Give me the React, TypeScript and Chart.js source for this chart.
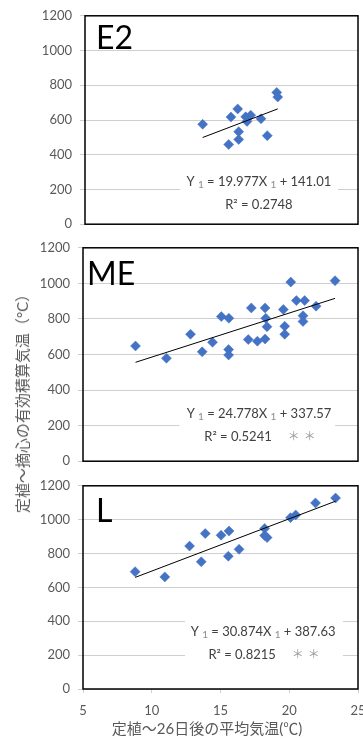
import React, { useEffect, useRef } from "react";
import { Chart, registerables } from "chart.js";

Chart.register(...registerables);

// ---- E2 ----
const e2Temp = [17.93, 20.79, 21.04, 21.78, 21.89, 21.89, 22.66, 22.8, 23.21, 24.34, 25.03, 26.07, 26.18];
const e2Heat = [575, 459, 617, 664, 533, 488, 618, 592, 628, 607, 510, 759, 732];
const e2Fit = { slope: 19.977, intercept: 141.01, r2: 0.2748, sig: "" };

// ---- ME ----
const meTemp = [
  8.82, 11.07, 12.82, 13.67, 14.42, 15.06, 15.61, 15.59, 15.59, 17.02, 17.24, 17.68, 18.24,
  18.24, 18.29, 18.38, 19.57, 19.67, 19.67, 20.11, 20.52, 21.12, 21.0, 21.0, 21.95, 23.33,
];
const meHeat = [
  648, 579, 714, 615, 669, 813, 804, 628, 597, 684, 862, 675, 687,
  862, 804, 756, 853, 759, 714, 1007, 903, 903, 818, 786, 872, 1015,
];
const meFit = { slope: 24.778, intercept: 337.57, r2: 0.5241, sig: "＊＊" };

// ---- L ----
const lTemp = [8.79, 10.95, 12.75, 13.6, 13.89, 15.04, 15.62, 15.57, 16.35, 18.21, 18.21, 18.39, 20.09, 20.47, 21.91, 23.37];
const lHeat = [693, 662, 844, 751, 918, 908, 933, 784, 825, 948, 906, 894, 1012, 1028, 1099, 1128];
const lFit = { slope: 30.874, intercept: 387.63, r2: 0.8215, sig: "＊＊" };

// shared axis ticks
const yTickMin = 0;
const yTickMax = 1200;
const yTickStep = 200;
const xTickStep = 5;

const X_TITLE = "定植～26日後の平均気温(℃)";
const Y_TITLE = "定植～摘心の有効積算気温（°C）";

const MARKER = "#4472C4";
const AXIS_TEXT = "#595959";
const GRID = "#cfcfcf";
const LATIN = "Lato, 'Noto Sans', sans-serif";
const CJK = "Lato, 'Noto Sans CJK JP', sans-serif";

type Fit = { slope: number; intercept: number; r2: number; sig: string };

type PanelSpec = {
  name: string;
  xs: number[];
  ys: number[];
  fit: Fit;
  xMin: number;
  xMax: number;
  showX: boolean;
  top: number;
  height: number;
  padTop: number;
  padBottom: number;
  yWidth: number;
  xHeight: number;
  labelDx: number;
  labelDy: number;
  eqCx: number; // fraction of plot width
  eqY1: number; // fraction of plot height
  eqY2: number;
  boxL: number;
  boxR: number;
};

const panels: PanelSpec[] = [
  {
    name: "E2", xs: e2Temp, ys: e2Heat, fit: e2Fit, xMin: 5, xMax: 35, showX: false,
    top: 0, height: 240, padTop: 12, padBottom: 11, yWidth: 85, xHeight: 0,
    labelDx: 11, labelDy: 33, eqCx: 0.637, eqY1: 0.795, eqY2: 0.908, boxL: 0.348, boxR: 0.927,
  },
  {
    name: "ME", xs: meTemp, ys: meHeat, fit: meFit, xMin: 5, xMax: 25, showX: false,
    top: 232, height: 245, padTop: 13, padBottom: 10, yWidth: 83, xHeight: 0,
    labelDx: 4, labelDy: 37, eqCx: 0.64, eqY1: 0.777, eqY2: 0.886, boxL: 0.35, boxR: 0.917,
  },
  {
    name: "L", xs: lTemp, ys: lHeat, fit: lFit, xMin: 5, xMax: 25, showX: true,
    top: 470, height: 270, padTop: 12.7, padBottom: 0, yWidth: 83, xHeight: 51,
    labelDx: 13, labelDy: 36, eqCx: 0.655, eqY1: 0.718, eqY2: 0.831, boxL: 0.371, boxR: 0.945,
  },
];

const EQ_FONT = `13px ${LATIN}`;
const SUB_FONT = `10px ${LATIN}`;
const SIG_FONT = `12px 'Noto Sans CJK JP', sans-serif`;

function drawEquation(ctx: CanvasRenderingContext2D, fit: Fit, cx: number, y1: number, y2: number) {
  const segs = [
    { t: "Y ", sub: false },
    { t: "1", sub: true },
    { t: " = " + fit.slope.toFixed(3) + "X ", sub: false },
    { t: "1", sub: true },
    { t: " + " + fit.intercept.toFixed(2), sub: false },
  ];
  ctx.textBaseline = "middle";
  ctx.textAlign = "left";
  let total = 0;
  const widths = segs.map((s) => {
    ctx.font = s.sub ? SUB_FONT : EQ_FONT;
    const w = ctx.measureText(s.t).width;
    total += w;
    return w;
  });
  let x = cx - total / 2;
  segs.forEach((s, i) => {
    ctx.font = s.sub ? SUB_FONT : EQ_FONT;
    ctx.fillStyle = s.sub ? "#8c8c8c" : "#404040";
    ctx.fillText(s.t, x, s.sub ? y1 + 3 : y1);
    x += widths[i];
  });

  // second line: R² and, when significant, the ＊＊ mark after it
  const r2Text = "R² = " + fit.r2.toFixed(4);
  ctx.font = EQ_FONT;
  const w1 = ctx.measureText(r2Text).width;
  const r2Center = fit.sig ? cx - 21 : cx;
  const r2Left = r2Center - w1 / 2;
  ctx.fillStyle = "#404040";
  ctx.fillText(r2Text, r2Left, y2);
  if (fit.sig) {
    ctx.font = SIG_FONT;
    ctx.fillStyle = "#9a9a9a";
    ctx.textAlign = "center";
    Array.from(fit.sig).forEach((ch, i) => {
      ctx.fillText(ch, r2Left + w1 + 22 + i * 16, y2);
    });
    ctx.textAlign = "left";
  }
}

const panelDecor = {
  id: "panelDecor",
  beforeDatasetsDraw(chart: any, _args: any, opts: any) {
    const spec: PanelSpec = opts.spec;
    const { ctx, chartArea } = chart;
    const { left, top, right, bottom } = chartArea;
    const w = right - left;
    const h = bottom - top;
    ctx.save();
    // equation box (white background hides the grid behind it)
    const y1 = top + spec.eqY1 * h;
    const y2 = top + spec.eqY2 * h;
    ctx.fillStyle = "#ffffff";
    ctx.fillRect(left + spec.boxL * w, y1 - 13, (spec.boxR - spec.boxL) * w, y2 - y1 + 26);
    drawEquation(ctx, spec.fit, left + spec.eqCx * w, y1, y2);
    // plot frame
    ctx.strokeStyle = "#000000";
    ctx.lineWidth = 1.5;
    ctx.strokeRect(left, top, w, h);
    // panel name
    ctx.font = `32px ${LATIN}`;
    ctx.fillStyle = "#000000";
    ctx.textAlign = "left";
    ctx.textBaseline = "alphabetic";
    ctx.fillText(spec.name, left + spec.labelDx, top + spec.labelDy);
    ctx.restore();
  },
};

function ScatterPanel({ spec }: { spec: PanelSpec }) {
  const ref = useRef<HTMLCanvasElement | null>(null);
  useEffect(() => {
    if (!ref.current) return;
    const pts = spec.xs.map((x, i) => ({ x, y: spec.ys[i] }));
    const lo = Math.min(...spec.xs);
    const hi = Math.max(...spec.xs);
    const trend = [
      { x: lo, y: spec.fit.slope * lo + spec.fit.intercept },
      { x: hi, y: spec.fit.slope * hi + spec.fit.intercept },
    ];
    const chart = new Chart(ref.current, {
      type: "scatter",
      data: {
        datasets: [
          {
            label: "trend",
            data: trend,
            showLine: true,
            borderColor: "#000000",
            borderWidth: 1,
            pointRadius: 0,
            fill: false,
          },
          {
            label: spec.name,
            data: pts,
            pointStyle: "rectRot",
            pointRadius: 5,
            pointBackgroundColor: MARKER,
            pointBorderColor: MARKER,
            pointBorderWidth: 0.5,
            showLine: false,
          },
        ],
      },
      options: {
        animation: false,
        responsive: false,
        devicePixelRatio: 1,
        layout: { padding: { top: spec.padTop, right: 22, bottom: spec.padBottom, left: 0 } },
        plugins: {
          legend: { display: false },
          tooltip: { enabled: false },
          panelDecor: { spec },
        } as any,
        scales: {
          x: {
            type: "linear",
            display: spec.showX,
            min: spec.xMin,
            max: spec.xMax,
            afterFit: (scale: any) => {
              if (spec.showX) scale.height = spec.xHeight;
            },
            ticks: {
              stepSize: xTickStep,
              color: AXIS_TEXT,
              font: { family: LATIN, size: 13 },
              padding: 10,
              maxRotation: 0,
              autoSkip: false,
              callback: (v: any) => String(v),
            },
            grid: { drawOnChartArea: false, drawTicks: true, tickLength: 4, color: GRID },
            border: { display: false },
          },
          y: {
            type: "linear",
            min: yTickMin,
            max: yTickMax,
            afterFit: (scale: any) => {
              scale.width = spec.yWidth;
            },
            ticks: {
              stepSize: yTickStep,
              color: AXIS_TEXT,
              font: { family: LATIN, size: 13 },
              padding: 8,
              callback: (v: any) => String(v),
            },
            grid: { color: GRID, lineWidth: 1, drawTicks: true, tickLength: 5 },
            border: { display: false },
          },
        },
      },
      plugins: [panelDecor as any],
    });
    return () => chart.destroy();
  }, [spec]);
  return (
    <canvas
      ref={ref}
      width={380}
      height={spec.height}
      style={{ position: "absolute", left: 0, top: spec.top, width: 380, height: spec.height }}
    />
  );
}

export default function App() {
  return (
    <div
      style={{
        position: "fixed",
        left: 0,
        top: 0,
        width: 363,
        height: 740,
        overflow: "hidden",
        background: "#ffffff",
      }}
    >
      {panels.map((p) => (
        <ScatterPanel key={p.name} spec={p} />
      ))}
      <div
        style={{
          position: "absolute",
          left: 22,
          top: 400,
          transform: "translate(-50%, -50%) rotate(-90deg)",
          whiteSpace: "nowrap",
          font: `15px ${CJK}`,
          color: AXIS_TEXT,
          lineHeight: "18px",
        }}
      >
        {Y_TITLE}
      </div>
      <div
        style={{
          position: "absolute",
          left: 207,
          top: 728,
          transform: "translate(-50%, -50%)",
          whiteSpace: "nowrap",
          font: `15px ${CJK}`,
          color: AXIS_TEXT,
          lineHeight: "18px",
        }}
      >
        {X_TITLE}
      </div>
    </div>
  );
}
